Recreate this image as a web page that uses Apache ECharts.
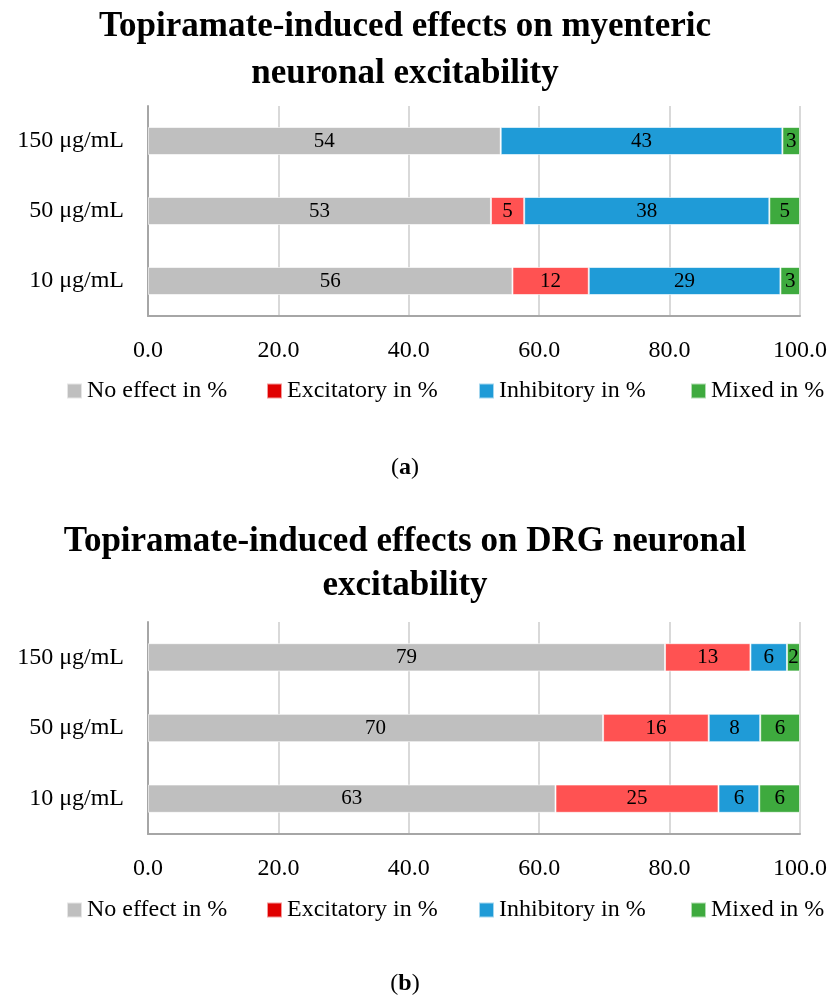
<!DOCTYPE html>
<html>
<head>
<meta charset="utf-8">
<script src="https://cdn.jsdelivr.net/npm/echarts@6/dist/echarts.min.js"></script>
<style>
html,body{margin:0;padding:0;background:#fff;}
#chart{width:835px;height:1007px;}
</style>
</head>
<body>
<div id="chart"></div>
<script>
// ---- data ----
const categories = ['10 μg/mL', '50 μg/mL', '150 μg/mL'];
const seriesNames = ['No effect in %', 'Excitatory in %', 'Inhibitory in %', 'Mixed in %'];
// (a) myenteric neurons
const noEffectA = [55.9, 52.6, 54.1];
const excitatoryA = [11.7, 5.1, 0];
const inhibitoryA = [29.4, 37.6, 43.2];
const mixedA = [3.0, 4.7, 2.7];
// (b) DRG neurons
const noEffectB = [62.5, 69.8, 79.3];
const excitatoryB = [25.0, 16.2, 13.1];
const inhibitoryB = [6.25, 7.9, 5.6];
const mixedB = [6.25, 6.1, 2.0];
const xTicks = [0, 20, 40, 60, 80, 100];
const titleA = 'Topiramate-induced effects on myenteric\nneuronal excitability';
const titleB = 'Topiramate-induced effects on DRG neuronal\nexcitability';

// ---- styling ----
const FONT = '"Liberation Serif", "DejaVu Serif", serif';
const barColors = ['#BFBFBF', '#FF5252', '#1F9BD7', '#3EAA3E'];
const legendColors = ['#BFBFBF', '#E00000', '#1F9BD7', '#3EAA3E'];
const legendLefts = [66, 266, 478, 690];
const legendTops = [379, 898];

const chart = echarts.init(document.getElementById('chart'), null, {renderer: 'canvas'});

function makeSeries(dataList, gridIdx) {
  return dataList.map((d, i) => ({
    name: seriesNames[i],
    type: 'bar',
    stack: 'g' + gridIdx,
    xAxisIndex: gridIdx,
    yAxisIndex: gridIdx,
    barWidth: '40%',
    data: d,
    itemStyle: {color: barColors[i], borderColor: 'rgba(255,255,255,0.6)', borderWidth: 1},
    label: {
      show: true,
      position: 'inside',
      color: '#000',
      fontFamily: FONT,
      fontSize: 21,
      formatter: p => p.value > 0 ? String(Math.round(p.value)) : ''
    },
    emphasis: {disabled: true}
  }));
}

const gridTops = [106, 622];
const xAxes = gridTops.map((t, i) => ({
  type: 'value', gridIndex: i, min: 0, max: 100, interval: 20,
  axisLine: {show: true, onZero: false, lineStyle: {color: '#A6A6A6', width: 2}},
  axisTick: {show: false},
  splitLine: {show: true, lineStyle: {color: '#D9D9D9', width: 2}},
  axisLabel: {
    margin: 23, color: '#000', fontFamily: FONT, fontSize: 24,
    formatter: v => xTicks.indexOf(v) >= 0 ? v.toFixed(1) : ''
  }
}));
const yAxes = gridTops.map((t, i) => ({
  type: 'category', gridIndex: i, data: categories,
  axisLine: {show: true, lineStyle: {color: '#A6A6A6', width: 2}},
  axisTick: {show: false},
  axisLabel: {margin: 24, color: '#000', fontFamily: FONT, fontSize: 24}
}));

const legends = [];
legendTops.forEach(top => {
  seriesNames.forEach((n, i) => {
    legends.push({
      data: [{name: n, itemStyle: {color: legendColors[i]}}],
      left: legendLefts[i],
      top: top,
      padding: 0,
      itemWidth: 15, itemHeight: 15,
      icon: 'rect',
      selectedMode: false,
      textStyle: {fontFamily: FONT, fontSize: 24, color: '#000'}
    });
  });
});

const capRich = {
  n: {fontFamily: FONT, fontSize: 24, fontWeight: 'normal', color: '#000'},
  b: {fontFamily: FONT, fontSize: 24, fontWeight: 'bold', color: '#000'}
};

chart.setOption({
  backgroundColor: '#fff',
  animation: false,
  title: [
    {text: titleA, left: 400, textAlign: 'center', top: -2,
     textStyle: {fontFamily: FONT, fontWeight: 'bold', fontSize: 35, color: '#000', lineHeight: 47}},
    {text: titleB, left: 400, textAlign: 'center', top: 515,
     textStyle: {fontFamily: FONT, fontWeight: 'bold', fontSize: 35, color: '#000', lineHeight: 44}},
    {text: '{n|(}{b|a}{n|)}', left: 400, textAlign: 'center', top: 451,
     textStyle: {fontWeight: 'normal', rich: capRich}},
    {text: '{n|(}{b|b}{n|)}', left: 400, textAlign: 'center', top: 967,
     textStyle: {fontWeight: 'normal', rich: capRich}}
  ],
  legend: legends,
  grid: gridTops.map((t, i) => ({left: 148, right: 35, top: t, height: i === 0 ? 210 : 212, containLabel: false})),
  xAxis: xAxes,
  yAxis: yAxes,
  series: [
    ...makeSeries([noEffectA, excitatoryA, inhibitoryA, mixedA], 0),
    ...makeSeries([noEffectB, excitatoryB, inhibitoryB, mixedB], 1)
  ]
});
</script>
</body>
</html>
